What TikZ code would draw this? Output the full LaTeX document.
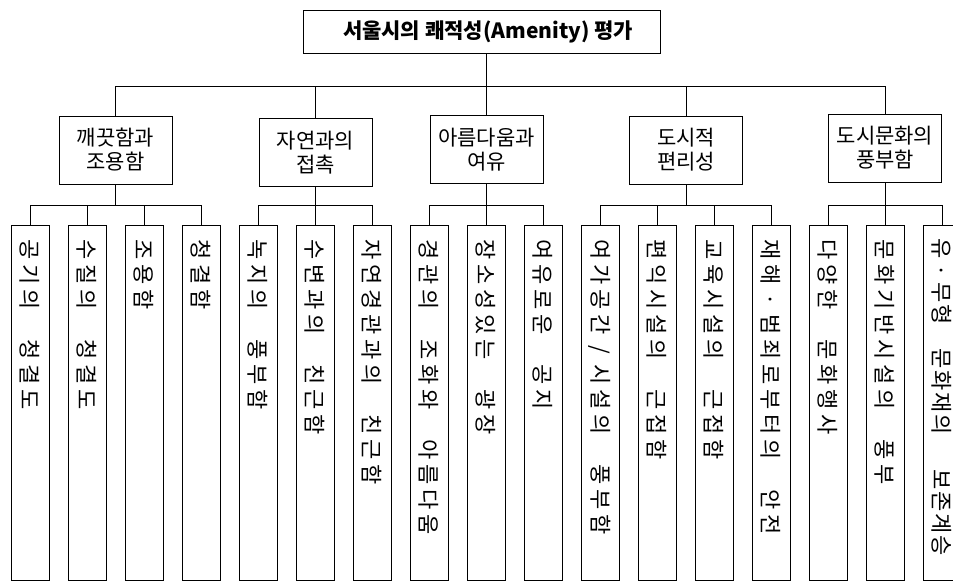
\documentclass[tikz,border=0pt]{standalone}
\usepackage{fontspec}
\setmainfont{Noto Sans CJK KR}
\newlength\leafcellw
\setlength\leafcellw{25pt}
\def\hgap{}
\def\leafcells#1{\leafcellsA#1\relax}
\def\leafcellsA#1{\ifx#1\relax\else\ifx#1\hgap\hspace*{0.5\leafcellw}\else\makebox[\leafcellw][c]{#1}\fi\expandafter\leafcellsA\fi}
\tikzset{
  conn/.style={draw=black, line width=0.8pt},
  topbox/.style={draw, line width=0.8pt, minimum width=357pt, minimum height=43pt, inner sep=0pt, font=\bfseries\fontsize{21}{24}\selectfont},
  midbox/.style={draw, line width=0.8pt, minimum width=113pt, minimum height=68pt, inner sep=0pt, align=center, font=\fontsize{21}{24}\selectfont},
  leafbox/.style={draw, line width=0.8pt, rotate=-90, minimum width=355pt, minimum height=38pt, inner xsep=12.5pt, inner ysep=0pt, text width=330pt, align=left, font=\fontsize{22}{24}\selectfont},
}
\begin{document}
\begin{tikzpicture}[x=1pt,y=-1pt]
\useasboundingbox (0,0) rectangle (953,581);
\node[topbox] (top) at (481.5,31.5) {\hspace*{13pt}서울시의 쾌적성(Amenity) 평가};
\node[midbox] (m1) at (115.5,150) {깨끗함과\\조용함};
\node[midbox] (m2) at (315.5,152.5) {자연과의\\접촉};
\node[midbox] (m3) at (486.5,149.5) {아름다움과\\여유};
\node[midbox] (m4) at (686,150) {도시적\\편리성};
\node[midbox] (m5) at (885,148) {도시문화의\\풍부함};
\node[leafbox] (l1) at (30,402.5) {\leafcells{공기의~청결도}};
\node[leafbox] (l2) at (87,402.5) {\leafcells{수질의~청결도}};
\node[leafbox] (l3) at (144,402.5) {\leafcells{조용함}};
\node[leafbox] (l4) at (201,402.5) {\leafcells{청결함}};
\node[leafbox] (l5) at (258,402.5) {\leafcells{녹지의~풍부함}};
\node[leafbox] (l6) at (315,402.5) {\leafcells{수변과의~친근함}};
\node[leafbox] (l7) at (372,402.5) {\leafcells{자연경관과의~친근함}};
\node[leafbox] (l8) at (429,402.5) {\leafcells{경관의~조화와~아름다움}};
\node[leafbox] (l9) at (486,402.5) {\leafcells{장소성있는~광장}};
\node[leafbox] (l10) at (543,402.5) {\leafcells{여유로운~공지}};
\node[leafbox] (l11) at (600,402.5) {\leafcells{여가공간/시설의~풍부함}};
\node[leafbox] (l12) at (657,402.5) {\leafcells{편익시설의~근접함}};
\node[leafbox] (l13) at (714,402.5) {\leafcells{교육시설의~근접함}};
\node[leafbox] (l14) at (771,402.5) {\leafcells{재해·범죄로부터의~안전}};
\node[leafbox] (l15) at (828,402.5) {\leafcells{다양한~문화행사}};
\node[leafbox] (l16) at (885,402.5) {\leafcells{문화기반시설의~풍부}};
\node[leafbox] (l17) at (942,402.5) {\setlength\leafcellw{22pt}\leafcells{유·무형~문화재의~\hgap 보존계승}};
\coordinate (busA) at (0,86);
\coordinate (busB) at (0,205);
% level 1 -> level 2
\draw[conn] (top.south -| m3.north) -- (m3.north);
\draw[conn] (m1.north) -- (m1.north |- busA) -- (m5.north |- busA) -- (m5.north);
\draw[conn] (m2.north |- busA) -- (m2.north);
\draw[conn] (m4.north |- busA) -- (m4.north);
% level 2 -> leaves
\draw[conn] (m1.south) -- (m1.south |- busB);
\draw[conn] (l1.west |- busB) -- (l4.west |- busB);
\draw[conn] (m2.south) -- (m2.south |- busB);
\draw[conn] (l5.west |- busB) -- (l7.west |- busB);
\draw[conn] (m3.south) -- (m3.south |- busB);
\draw[conn] (l8.west |- busB) -- (l10.west |- busB);
\draw[conn] (m4.south) -- (m4.south |- busB);
\draw[conn] (l11.west |- busB) -- (l14.west |- busB);
\draw[conn] (m5.south) -- (m5.south |- busB);
\draw[conn] (l15.west |- busB) -- (l17.west |- busB);
\foreach \k in {1,...,17} {\draw[conn] (l\k.west |- busB) -- (l\k.west);}
\end{tikzpicture}
\end{document}
